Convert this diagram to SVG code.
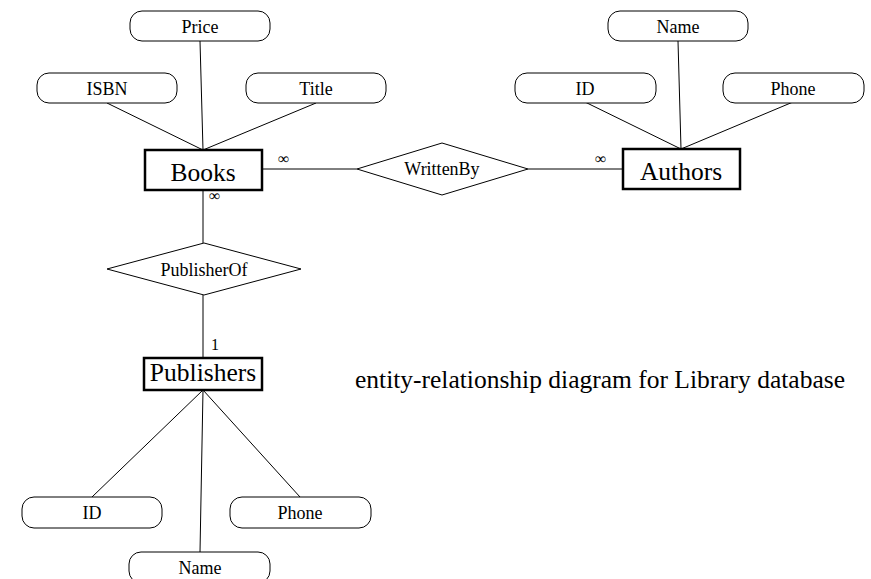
<svg xmlns="http://www.w3.org/2000/svg" width="871" height="579" viewBox="0 0 871 579">
<style>
text{font-family:"Liberation Serif","Times New Roman",serif;fill:#000;text-anchor:middle}
.attr rect{fill:#fff;stroke:#000;stroke-width:1}
.attr text{font-size:18px}
.ent rect{fill:#fff;stroke:#000;stroke-width:2.5}
.ent text{font-size:25.5px}
.rel polygon{fill:#fff;stroke:#000;stroke-width:1}
.rel text{font-size:18px}
#connectors line{stroke:#000;stroke-width:1}
.card{font-size:16px;text-anchor:start}
</style>
<rect width="871" height="579" fill="#fff"/>
<g id="connectors">
<line x1="200" y1="41" x2="203" y2="150"/>
<line x1="107" y1="103" x2="203" y2="150"/>
<line x1="316" y1="103" x2="203" y2="150"/>
<line x1="262" y1="169" x2="357" y2="169"/>
<line x1="528" y1="169" x2="623" y2="169"/>
<line x1="678" y1="41" x2="681" y2="149"/>
<line x1="585" y1="102" x2="681" y2="149"/>
<line x1="793" y1="102" x2="681" y2="149"/>
<line x1="203" y1="190" x2="203" y2="243"/>
<line x1="203" y1="295" x2="203" y2="358"/>
<line x1="203" y1="390" x2="92" y2="497"/>
<line x1="203" y1="390" x2="200" y2="552"/>
<line x1="203" y1="390" x2="300" y2="497"/>
<text class="card" x="278" y="164">∞</text>
<text class="card" x="595" y="164">∞</text>
<text class="card" x="209" y="201">∞</text>
<text class="card" x="211" y="350">1</text>
</g>
<g id="attr-price" class="attr"><rect x="130" y="11" width="140" height="30" rx="12"/><text x="200" y="33">Price</text></g>
<g id="attr-isbn" class="attr"><rect x="37" y="73" width="140" height="30" rx="12"/><text x="107" y="95">ISBN</text></g>
<g id="attr-title" class="attr"><rect x="246" y="73" width="140" height="30" rx="12"/><text x="316" y="95">Title</text></g>
<g id="attr-author-name" class="attr"><rect x="608" y="11" width="140" height="30" rx="12"/><text x="678" y="33">Name</text></g>
<g id="attr-author-id" class="attr"><rect x="515" y="73" width="141" height="30" rx="12"/><text x="585" y="95">ID</text></g>
<g id="attr-author-phone" class="attr"><rect x="723" y="73" width="141" height="30" rx="12"/><text x="793" y="95">Phone</text></g>
<g id="books" class="ent"><rect x="145" y="150" width="117" height="40"/><text x="203" y="181">Books</text></g>
<g id="authors" class="ent"><rect x="623" y="149" width="117" height="40"/><text x="681" y="180">Authors</text></g>
<g id="writtenby" class="rel"><polygon points="357,169 442,143 528,169 442,195"/><text x="442" y="175">WrittenBy</text></g>
<g id="publisherof" class="rel"><polygon points="107,269 204,243 301,269 204,295"/><text x="204" y="276">PublisherOf</text></g>
<g id="publishers" class="ent"><rect x="144" y="358" width="118" height="32"/><text x="203" y="381">Publishers</text></g>
<g id="attr-pub-id" class="attr"><rect x="22" y="497" width="140" height="31" rx="12"/><text x="92" y="519">ID</text></g>
<g id="attr-pub-phone" class="attr"><rect x="230" y="497" width="141" height="31" rx="12"/><text x="300" y="519">Phone</text></g>
<g id="attr-pub-name" class="attr"><rect x="129" y="552" width="141" height="31" rx="12"/><text x="200" y="574">Name</text></g>
<text id="caption" x="600" y="388" style="font-size:25.5px">entity-relationship diagram for Library database</text>
</svg>
